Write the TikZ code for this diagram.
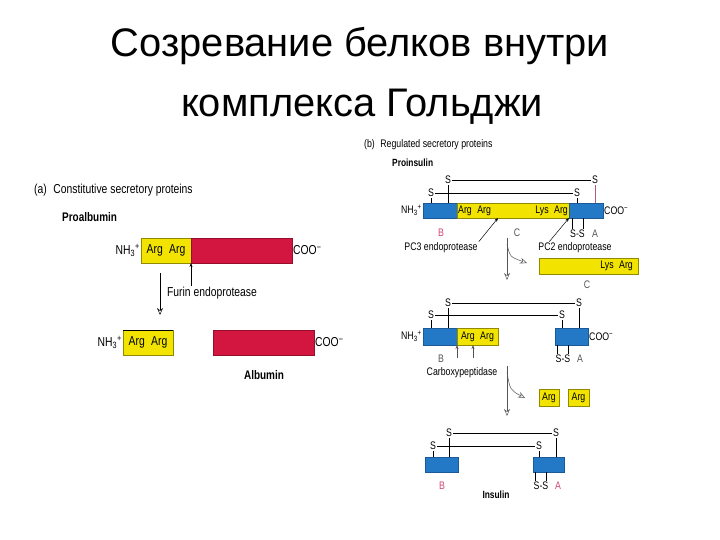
\documentclass[tikz,border=0pt]{standalone}
\usepackage{fontspec}
\setmainfont{Liberation Sans}
\newfontfamily\narrowfont[FakeStretch=0.8]{Liberation Sans}
\usetikzlibrary{arrows.meta,positioning,calc}
\definecolor{GolgiYellow}{HTML}{F2E400}
\definecolor{GolgiRed}{HTML}{D3163F}
\definecolor{GolgiBlue}{HTML}{2379C6}
\definecolor{GolgiEdge}{HTML}{1B5A96}
\definecolor{LabelGray}{HTML}{555555}
\definecolor{ChainPink}{HTML}{D2457A}

\tikzset{
  title/.style={font=\fontsize{40}{40}\selectfont, anchor=base},
  lbla/.style={font=\narrowfont\fontsize{13}{13}\selectfont, inner sep=1bp},
  lblb/.style={font=\narrowfont\fontsize{11}{11}\selectfont, inner sep=1bp},
  namea/.style={font=\narrowfont\bfseries\fontsize{12.5}{12.5}\selectfont, inner sep=0},
  nameb/.style={font=\narrowfont\bfseries\fontsize{10.5}{10.5}\selectfont, inner sep=0},
  seg/.style={anchor=north west, inner sep=0, outer sep=0, line width=0.5bp},
  yseg/.style={seg, fill=GolgiYellow, draw=GolgiYellow!60!black},
  rseg/.style={seg, fill=GolgiRed, draw=GolgiRed!70!black},
  bseg/.style={seg, fill=GolgiBlue, draw=GolgiEdge},
  bond/.style={line width=0.6bp},
  cut/.style={-{Stealth[length=4bp,width=3bp]}, line width=0.5bp},
  proc/.style={-{Stealth[open,length=7bp,width=6bp]}, line width=0.5bp, LabelGray},
}

\begin{document}
\begin{tikzpicture}[x=1bp, y=-1bp]
\useasboundingbox (0,0) rectangle (720,540);
\fill[white] (0,0) rectangle (720,540);

% Title
\node[title] (t1) at (360,57) {Созревание белков внутри};
\node[title] (t2) at (362,117) {комплекса Гольджи};

% (a) Constitutive secretory proteins
\node[lbla, anchor=west] (ha) at (33,190) {(a)\enspace Constitutive secretory proteins};
\node[namea, anchor=west] (proalb) at (62,217) {Proalbumin};

\node[yseg, minimum width=50bp, minimum height=25bp] (pa-y) at (141,238) {};
\node[rseg, minimum width=101bp, minimum height=25bp] (pa-r) at (191,238) {};
\node[lbla] at (pa-y.center) {Arg\enspace Arg};
\node[lbla, anchor=east] (pa-n) at (pa-y.west) {NH\textsubscript{3}\textsuperscript{+}};
\node[lbla, anchor=west] (pa-c) at (pa-r.east) {COO\textsuperscript{−}};

\node[lbla] (furin) at (212,293) {Furin endoprotease};
\draw[cut] (furin.north -| pa-y.south east) -- (pa-y.south east);

\coordinate (da-top) at (160,273);
\coordinate (da-bot) at (160,315);
\draw[proc, black] (da-top) -- (da-bot);

\node[yseg, minimum width=50bp, minimum height=25bp] (ab-y) at (123,330) {};
\draw[line width=0.8bp] (ab-y.north west) -- (ab-y.north east);
\node[lbla] at (ab-y.center) {Arg\enspace Arg};
\node[lbla, anchor=east] (ab-n) at (ab-y.west) {NH\textsubscript{3}\textsuperscript{+}};
\node[rseg, minimum width=101bp, minimum height=25bp] (ab-r) at (213,330) {};
\node[lbla, anchor=west] (ab-c) at (ab-r.east) {COO\textsuperscript{−}};
\node[namea] (alb) at (264,375) {Albumin};

% (b) Regulated secretory proteins
\node[lblb, anchor=west] (hb) at (363,145) {(b)\enspace Regulated secretory proteins};
\node[nameb, anchor=west] (proins) at (392,163) {Proinsulin};

% proinsulin chain
\node[bseg, minimum width=34bp, minimum height=15bp] (p-b) at (423,203) {};
\node[yseg, minimum width=112bp, minimum height=15bp] (p-c) at (457,203) {};
\node[bseg, minimum width=34bp, minimum height=15bp] (p-a) at (569,203) {};
\node[lblb, anchor=west] at (p-c.west) {Arg\enspace Arg};
\node[lblb, anchor=east] at (p-c.east) {Lys\enspace Arg};
\node[lblb, anchor=east] (p-n) at (p-b.west) {NH\textsubscript{3}\textsuperscript{+}};
\node[lblb, anchor=west] (p-co) at (p-a.east) {COO\textsuperscript{−}};

\node[lblb] (s1u) at (448,180) {S};
\node[lblb] (s2u) at (595,180) {S};
\node[lblb] (s1l) at (431,193) {S};
\node[lblb] (s2l) at (577,193) {S};
\draw[bond] (s1u) -- (s2u);
\draw[bond] (s1l) -- (s2l);
\draw[bond] (s1u) -- (s1u |- p-b.north);
\draw[bond] (s1l) -- (s1l |- p-b.north);
\draw[bond] (s2l) -- (s2l |- p-a.north);
\draw[bond, ChainPink!60!gray] (s2u) -- (s2u |- p-a.north);

\node[lblb] (ss1) at (577.5,234) {S-S};
\coordinate (ss1-l) at ($(ss1.north)+(-5.5,0)$);
\coordinate (ss1-r) at ($(ss1.north)+(5.5,0)$);
\draw[bond] (ss1-l) -- (ss1-l |- p-a.south);
\draw[bond] (ss1-r) -- (ss1-r |- p-a.south);
\node[lblb, LabelGray] (p-al) at (595,234) {A};
\node[lblb, ChainPink] (p-bl) at (441,233) {B};
\node[lblb, LabelGray] (p-cl) at (517,233) {C};

\node[lblb] (pc3) at (441,248) {PC3 endoprotease};
\node[lblb] (pc2) at (575,248) {PC2 endoprotease};
\draw[cut] (pc3.north east) -- ($(p-c.south west)+(41,0)$);
\draw[cut] ($(pc2.north west)+(12,0)$) -- (p-a.south west);

% first processing step
\coordinate (s1-top) at (507,238);
\coordinate (s1-bot) at (507,280);
\coordinate (s1-fork) at (507,244);
\coordinate (s1-side) at (527,263);
\draw[proc] (s1-top) -- (s1-bot);
\draw[proc] (s1-fork) .. controls (510,257) .. (s1-side);

\node[yseg, minimum width=99bp, minimum height=16bp] (lys) at (539,258) {};
\node[lblb, anchor=east] at ($(lys.east)+(-4,0)$) {Lys\enspace Arg};
\node[lblb, LabelGray] (lys-c) at (587,285) {C};

% intermediate
\node[bseg, minimum width=34bp, minimum height=17bp] (m-b) at (423,328) {};
\node[yseg, minimum width=41bp, minimum height=17bp] (m-c) at (457,328) {};
\node[bseg, minimum width=33bp, minimum height=17bp] (m-a) at (555,328) {};
\node[lblb] at (m-c.center) {Arg\enspace Arg};
\node[lblb, anchor=east] (m-n) at (m-b.west) {NH\textsubscript{3}\textsuperscript{+}};
\node[lblb, anchor=west] (m-co) at (m-a.east) {COO\textsuperscript{−}};

\node[lblb] (s3u) at (448,303) {S};
\node[lblb] (s4u) at (579,303) {S};
\node[lblb] (s3l) at (431,315) {S};
\node[lblb] (s4l) at (562,315) {S};
\draw[bond] (s3u) -- (s4u);
\draw[bond] (s3l) -- (s4l);
\draw[bond] (s3u) -- (s3u |- m-b.north);
\draw[bond] (s3l) -- (s3l |- m-b.north);
\draw[bond] (s4u) -- (s4u |- m-a.north);
\draw[bond] (s4l) -- (s4l |- m-a.north);

\node[lblb] (ss2) at (563,359) {S-S};
\coordinate (ss2-l) at ($(ss2.north)+(-5.5,0)$);
\coordinate (ss2-r) at ($(ss2.north)+(5.5,0)$);
\draw[bond] (ss2-l) -- (ss2-l |- m-a.south);
\draw[bond] (ss2-r) -- (ss2-r |- m-a.south);
\node[lblb, LabelGray] (m-al) at (580,359) {A};
\node[lblb, LabelGray] (m-bl) at (441,359) {B};

\node[lblb] (carb) at (462,373) {Carboxypeptidase};
\coordinate (cp1) at (457,358);
\coordinate (cp2) at (473,358);
\draw[cut, LabelGray] (cp1) -- (cp1 |- m-c.south);
\draw[cut, LabelGray] (cp2) -- (cp2 |- m-c.south);

% second processing step
\coordinate (s2-top) at (507,366);
\coordinate (s2-bot) at (507,416);
\coordinate (s2-fork) at (507,372);
\coordinate (s2-side) at (525,398);
\draw[proc] (s2-top) -- (s2-bot);
\draw[proc] (s2-fork) .. controls (510,390) .. (s2-side);

\node[yseg, minimum width=20bp, minimum height=17bp] (arg1) at (539,389) {};
\node[yseg, minimum width=21bp, minimum height=17bp] (arg2) at (568,389) {};
\node[lblb] at (arg1.center) {Arg};
\node[lblb] at (arg2.center) {Arg};

% insulin
\node[bseg, minimum width=33bp, minimum height=15bp] (i-b) at (425,457) {};
\node[bseg, minimum width=31bp, minimum height=15bp] (i-a) at (533,457) {};

\node[lblb] (s5u) at (449,433) {S};
\node[lblb] (s6u) at (556,433) {S};
\node[lblb] (s5l) at (433,446) {S};
\node[lblb] (s6l) at (539,446) {S};
\draw[bond] (s5u) -- (s6u);
\draw[bond] (s5l) -- (s6l);
\draw[bond] (s5u) -- (s5u |- i-b.north);
\draw[bond] (s5l) -- (s5l |- i-b.north);
\draw[bond] (s6u) -- (s6u |- i-a.north);
\draw[bond] (s6l) -- (s6l |- i-a.north);

\node[lblb] (ss3) at (541,486) {S-S};
\coordinate (ss3-l) at ($(ss3.north)+(-5.5,0)$);
\coordinate (ss3-r) at ($(ss3.north)+(5.5,0)$);
\draw[bond] (ss3-l) -- (ss3-l |- i-a.south);
\draw[bond] (ss3-r) -- (ss3-r |- i-a.south);
\node[lblb, ChainPink] (i-al) at (558,486) {A};
\node[lblb, ChainPink] (i-bl) at (442,486) {B};
\node[nameb] (ins) at (496,495) {Insulin};
\end{tikzpicture}
\end{document}
